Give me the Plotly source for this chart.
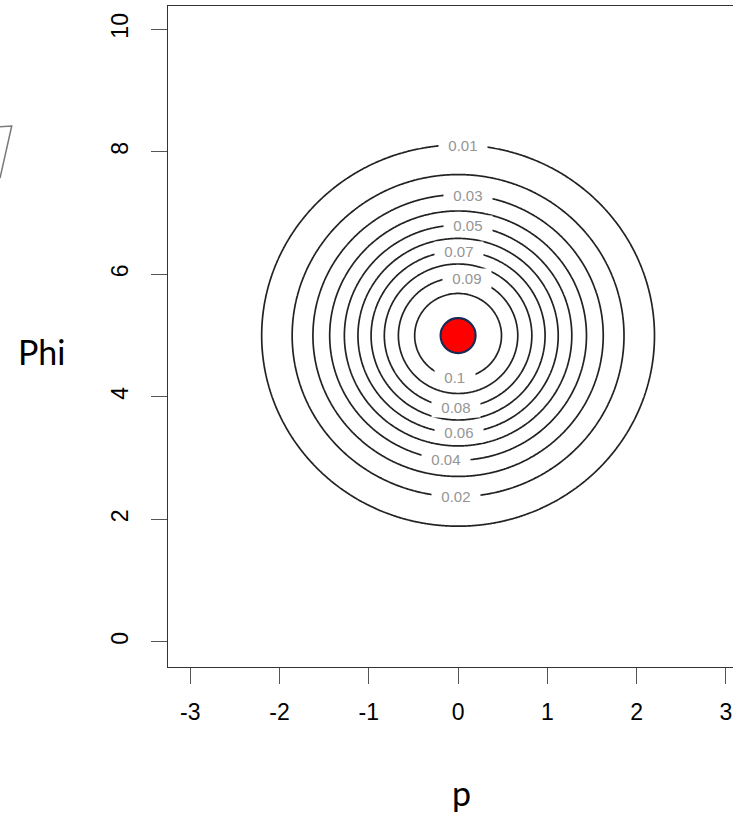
import numpy as np
import plotly.graph_objects as go

# Bivariate normal density parameters (p ~ N(0,1), Phi ~ N(5, 1.414))
mu_p = 0.0
sd_p = 1.0
mu_phi = 5.0
sd_phi = 1.414

# contour levels
levels = [0.01, 0.02, 0.03, 0.04, 0.05, 0.06, 0.07, 0.08, 0.09, 0.1]
level_text = ["0.01", "0.02", "0.03", "0.04", "0.05", "0.06", "0.07", "0.08", "0.09", "0.1"]
label_side = [1, -1, 1, -1, 1, -1, 1, -1, 1, -1]  # 1 = label on top of ring, -1 = bottom
label_x = [0.06, -0.02, 0.11, -0.13, 0.11, 0.01, 0.01, -0.02, 0.10, -0.03]

# centre point
point_p = [0.0]
point_phi = [5.0]

x_ticks = [-3, -2, -1, 0, 1, 2, 3]
y_ticks = [0, 2, 4, 6, 8, 10]

xs = np.linspace(-3.3, 3.3, 441)
ys = np.linspace(-0.5, 10.5, 661)
X, Y = np.meshgrid(xs, ys)
peak = 1.0 / (2 * np.pi * sd_p * sd_phi)
Z = peak * np.exp(-0.5 * (((X - mu_p) / sd_p) ** 2 + ((Y - mu_phi) / sd_phi) ** 2))

fig = go.Figure()
fig.add_trace(go.Contour(
    x=xs, y=ys, z=Z,
    contours=dict(start=levels[0], end=levels[-1] + 0.0005, size=0.01,
                  coloring="lines", showlabels=False),
    colorscale=[[0, "#222222"], [1, "#222222"]],
    line=dict(width=1.7),
    showscale=False,
    hoverinfo="skip",
))

fig.add_trace(go.Scatter(
    x=point_p, y=point_phi, mode="markers",
    marker=dict(size=35, color="#ff0000", line=dict(color="#1b2a55", width=2.2)),
    hoverinfo="skip", showlegend=False,
))

annotations = []
for lv, txt, side, lx in zip(levels, level_text, label_side, label_x):
    r2 = 2 * np.log(peak / lv) - ((lx - mu_p) / sd_p) ** 2
    ly = mu_phi + side * sd_phi * np.sqrt(max(r2, 0))
    annotations.append(dict(
        x=lx, y=ly, xref="x", yref="y", text="&nbsp;&nbsp;" + txt + "&nbsp;&nbsp;", showarrow=False,
        font=dict(family="Liberation Sans, Arial, sans-serif", size=15, color="#959595"),
        bgcolor="white", borderpad=1, xanchor="center", yanchor="middle",
    ))

annotations.append(dict(
    x=-0.2245, y=0.478, xref="paper", yref="paper", text="Phi", showarrow=False,
    font=dict(family="Lato, Open Sans, sans-serif", size=34, color="black"),
    xanchor="center", yanchor="middle",
))
annotations.append(dict(
    x=0.519, y=-0.19, xref="paper", yref="paper", text="p", showarrow=False,
    font=dict(family="Lato, Open Sans, sans-serif", size=34, color="black"),
    xanchor="center", yanchor="middle",
))

# faint fragment at the far left edge of the picture
shapes = [dict(
    type="path", xref="paper", yref="paper",
    path="M -0.2973,0.8173 L -0.2766,0.8184 L -0.2973,0.7397",
    line=dict(color="#7a7a7a", width=1.5),
)]

fig.update_layout(
    width=733, height=820, autosize=False,
    margin=dict(l=168, r=0, t=6, b=153, pad=0),
    paper_bgcolor="white", plot_bgcolor="white",
    showlegend=False,
    annotations=annotations,
    shapes=shapes,
    font=dict(family="Liberation Sans, Arial, sans-serif", size=23, color="black"),
    xaxis=dict(
        range=[-3.25, 3.08], tickmode="array", tickvals=x_ticks,
        ticktext=[str(v) for v in x_ticks],
        showgrid=False, zeroline=False,
        showline=True, mirror=True, linecolor="#333333", linewidth=1.3,
        ticks="outside", ticklen=16, tickwidth=1.3, tickcolor="#555555",
        ticklabelstandoff=8,
    ),
    yaxis=dict(
        range=[-0.41, 10.38], tickmode="array", tickvals=y_ticks,
        ticktext=[str(v) for v in y_ticks],
        showgrid=False, zeroline=False,
        showline=True, mirror=False, linecolor="#333333", linewidth=1.3,
        ticks="outside", ticklen=16, tickwidth=1.3, tickcolor="#555555",
        tickangle=-90, ticklabelstandoff=14,
    ),
)

fig.write_html(
    "out.html",
    config={"displayModeBar": False},
    post_script="document.body.style.margin='0';document.body.style.padding='0';"
                "document.documentElement.style.overflow='hidden';",
)
